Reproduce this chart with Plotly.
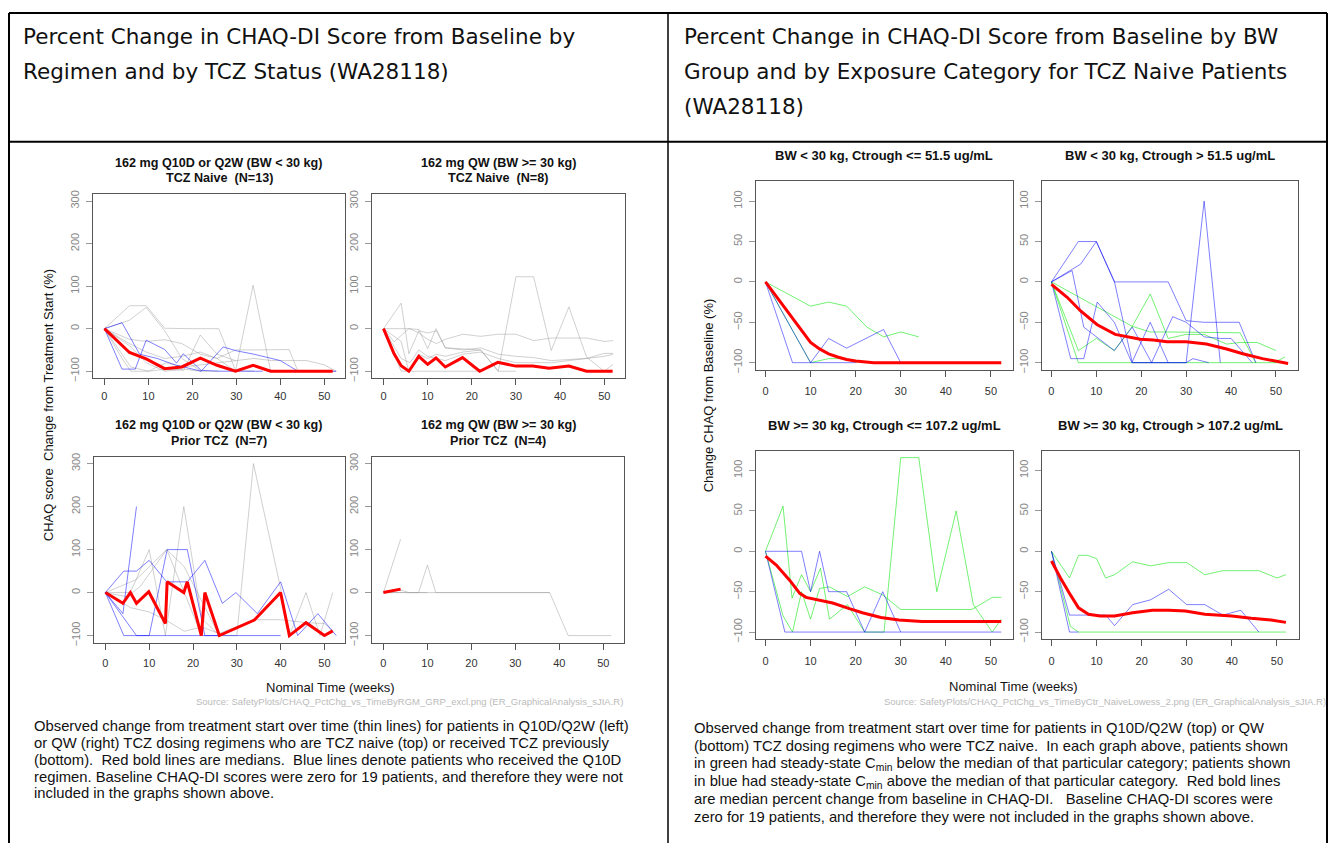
import plotly.graph_objects as go

# ---------------- DATA ----------------
# Left cell: Percent change by regimen and TCZ status (weeks, % change)
naive_q2w_red_t = [0, 5.7, 9.5, 13.7, 17.6, 21.8, 25.6, 29.8, 33.8, 37.8, 51.9]
naive_q2w_red_y = [0, -56, -71, -94, -90, -69, -86, -100, -86, -100, -100]
naive_q2w_blue_t = [[0, 4, 7, 9.5, 13.7, 16.4, 17.9, 22, 26.5, 29.8, 34, 36],
                    [0, 4, 8, 12, 16, 20, 22, 27, 30, 34, 40, 44, 52.7]]
naive_q2w_blue_y = [[0, -95, -95, -27, -49, -81, -59, -98, -100, -100, -100, -100],
                    [0, 14, -60, -70, -85, -95, -100, -43, -52, -60, -75, -100, -100]]
naive_q2w_gray_t = [[0, 5.7, 9.5, 13.7, 20, 26, 29.8, 34],
                    [0, 5.7, 9.5, 13.7, 17.6, 22],
                    [0, 5.7, 9.5, 13.7, 17.6, 21.8, 25.6, 29.8, 33.8, 37.8],
                    [0, 5.7, 9.5, 13.7, 17.6, 21.8, 25.6, 29.8, 33.8, 37.8, 42, 44, 52.7],
                    [0, 4, 6, 10, 14, 18, 22, 26, 30, 34, 38, 42, 46, 50, 52.7],
                    [0, 6, 10, 14, 18, 21.8, 25.6, 29.8],
                    [0, 5.7, 9.5, 13.7, 18, 22, 26]]
naive_q2w_gray_y = [[0, 54, 54, 1, 0, 0, -98, -100],
                    [0, 20, 50, -5, -70, -100],
                    [0, -25, -30, -26, -35, -60, -70, -100, 102, -100],
                    [0, -35, -55, -70, -65, -55, -70, -50, -50, -50, -49, -100, -100],
                    [0, -70, -100, -100, -80, -90, -85, -80, -75, -70, -75, -75, -75, -85, -100],
                    [0, -90, -100, -95, -98, -15, -60, -75],
                    [0, -40, -80, -100, -95, -100, -100]]

naive_qw_red_t = [0, 2.4, 4, 5.75, 8, 10, 11.9, 14, 17.9, 21.8, 25.9, 30, 33.8, 37.5, 42, 46, 51.9]
naive_qw_red_y = [0, -59, -87, -100, -65, -84, -69, -90, -68, -100, -79, -88, -88, -93, -88, -100, -100]
naive_qw_gray_t = [[0, 4, 5.75, 8, 10, 12, 14, 18, 22, 26, 30, 34, 38, 42, 46, 50, 52],
                   [0, 4, 5.75, 8, 10, 12, 14, 18, 22, 26, 30],
                   [0, 4, 6, 8, 10, 12, 14, 18, 22, 26, 30, 34, 38, 42, 46, 50, 52],
                   [0, 2.4, 5.75, 8, 10, 11.9, 14, 18, 22, 26, 30, 34, 38, 42, 46, 50, 52],
                   [0, 4, 8, 14, 18, 22],
                   [0, 4, 6, 8, 10, 14, 18, 22, 26, 30, 34, 38, 42, 46, 50, 52]]
naive_qw_gray_y = [[0, -30, -100, -60, -70, -60, -65, -55, -50, -100, 122, 122, -51, 51, -67, -100, -84],
                   [0, 60, -59, -5, -10, -5, -45, -48, -50, -100, -100],
                   [0, 0, 0, -10, -25, -35, -25, -13, -18, -13, -13, -28, -22, -22, -22, -30, -28],
                   [0, -31, 0, -2, -47, 0, -45, -50, -45, -60, -65, -68, -75, -72, -70, -58, -58],
                   [0, -100, -100, -100, -100, -100],
                   [0, -70, -80, -50, -65, -75, -60, -55, -70, -80, -80, -80, -75, -70, -65, -60]]

prior_q2w_red_t = [0, 4, 5.7, 7.1, 9.9, 13.7, 14.1, 17.9, 18.7, 21.9, 22.7, 26, 34, 40, 42, 45.8, 50, 51.9]
prior_q2w_red_y = [0, -25, 0, -25, 2, -72, 25, 0, 25, -100, 0, -100, -64, 0, -100, -70, -100, -89]
prior_q2w_blue_t = [[0, 4, 7.1],
                    [0, 4.2, 10, 14.1, 18.7, 22.7, 26],
                    [0, 4.2, 7.1, 10, 14, 18.7, 22.7, 26.7, 29.8, 34.7, 40, 43.9, 48.5, 52.7],
                    [0, 7.1, 14, 22, 30, 40]]
prior_q2w_blue_y = [[0, -49, 200],
                    [0, -100, -100, 100, 100, -100, -100],
                    [0, 50, 50, 75, 25, 25, 75, -25, 0, -49, 25, -100, -49, -100],
                    [0, -100, -100, -100, -100, -100]]
prior_q2w_gray_t = [[0, 5.7, 10, 13.7, 17.9, 22, 26],
                    [0, 5.7, 10, 14, 18, 22, 26, 34, 40, 46, 50, 52],
                    [0, 7, 10, 14, 18, 22, 26, 30, 33.8, 40, 42, 45.8, 49, 51.9],
                    [0, 5, 8, 14, 18, 22]]
prior_q2w_gray_y = [[0, 0, 100, -100, 200, -60, -100],
                    [0, -35, -45, -65, -90, -80, -95, -63, -63, -70, -72, -90],
                    [0, 30, 60, 100, 60, -20, -100, -100, 300, 10, -100, 0, -100, 0],
                    [0, -10, 15, 100, 0, -100]]

prior_qw_red_t = [0, 3.9]
prior_qw_red_y = [0, 8]
prior_qw_gray_t = [[0, 3.9],
                   [0, 3.9, 5.8, 8, 10, 11.9, 37.8, 42, 51.8],
                   [0, 6, 20, 30, 37.8],
                   [0, 4, 10]]
prior_qw_gray_y = [[0, 124],
                   [0, 6, 0, 0, 64, 0, 0, -100, -100],
                   [0, 0, 0, 0, 0],
                   [0, 0, 0]]

# Right cell: by BW group and exposure category (TCZ naive)
lowbw_lowc_red_t = [0, 2, 4, 6, 8, 10, 12, 14, 16, 18, 20, 22, 24, 52.3]
lowbw_lowc_red_y = [0, -15, -30, -45, -61, -75, -83, -89, -93, -96, -98, -99, -100, -100]
lowbw_lowc_green_t = [[0, 10, 14, 18, 22.5, 26.2, 30, 34], [0, 10, 14, 18, 20.3]]
lowbw_lowc_green_y = [[0, -30, -25, -30, -56, -68, -62, -68], [0, -100, -95, -95, -100]]
lowbw_lowc_blue_t = [[0, 6, 20], [0, 10, 14, 18, 26.2, 30]]
lowbw_lowc_blue_y = [[0, -100, -100], [0, -100, -70, -82, -59, -100]]

lowbw_highc_red_t = [0, 3.5, 6.5, 10.2, 14.2, 19.8, 22.7, 25.7, 30, 34.5, 39, 42.6, 47, 50, 52.7]
lowbw_highc_red_y = [-3, -19, -36, -53, -65, -71, -72, -74, -74, -77, -83, -89, -95, -98, -101]
lowbw_highc_blue_t = [[0, 6, 10, 14, 18, 22, 26],
                      [0, 4.6, 6.5, 10, 14, 26, 30, 34, 41.8, 45.5],
                      [0, 4.3, 7.2, 10.2, 14, 17.9, 22, 26],
                      [0, 4.6, 7.2, 14, 18, 22.3, 27, 30, 34, 37.6, 40, 44.7],
                      [26, 30, 34, 37.6],
                      [18, 30, 31.5, 35]]
lowbw_highc_blue_y = [[0, 50, 50, 1, -100, -100, -100],
                      [0, 15, 22, 50, 0, 0, -48, -50, -50, -100],
                      [0, -95, -95, -25, -50, -100, -50, -100],
                      [0, 14, -56, -85, -56, -100, -43, -50, -68, -70, -70, -100],
                      [-100, -100, 100, -100],
                      [-100, -100, -95, -100]]
lowbw_highc_green_t = [[0, 6, 52.5],
                       [0, 6, 10, 14, 18, 22, 26, 30, 34, 39, 42, 45.8, 50],
                       [0, 10, 14, 18, 22, 26, 42, 45.5],
                       [49.5, 52]]
lowbw_highc_green_y = [[0, -100, -100],
                       [0, -85, -70, -85, -55, -15, -70, -65, -65, -77, -75, -75, -85],
                       [0, -30, -42, -55, -62, -62, -63, -100],
                       [-100, -93]]

highbw_lowc_red_t = [0, 2.4, 5.4, 7.6, 9, 12.7, 14.9, 18.6, 21.5, 25.6, 29.6, 34.7, 52.3]
highbw_lowc_red_y = [-6, -17, -36, -52, -57, -61, -64, -71, -76, -82, -85, -87, -87]
highbw_lowc_green_t = [[0, 3.9, 5.9, 8, 10, 12.2, 14.2, 18.2, 22, 26.3, 30, 34, 38, 42.3, 46.1, 50.3, 52.3],
                       [0, 3.9, 6, 8, 10, 12, 14.2, 18.2, 22, 26, 30, 45.8, 50.3, 52.3]]
highbw_lowc_green_y = [[0, 56, -58, -29, -50, -21, -84, -66, -100, -100, 116, 116, -50, 50, -66, -100, -84],
                       [0, -80, -100, -50, -84, -46, -44, -56, -44, -54, -72, -72, -57, -57]]
highbw_lowc_blue_t = [[0, 8, 10, 12, 14, 18, 22, 26, 30], [0, 4.3, 52.3]]
highbw_lowc_blue_y = [[0, 0, -50, 0, -50, -50, -100, -50, -100], [0, -100, -100]]

highbw_highc_red_t = [0, 2, 4.2, 6, 8.2, 10.8, 14, 18, 22.4, 26, 29.7, 34, 40, 44.3, 48.7, 52]
highbw_highc_red_y = [-12, -33, -54, -70, -78, -80, -80, -76, -73, -73, -74, -78, -80, -83, -85, -88]
highbw_highc_green_t = [[0, 4, 6, 8, 10, 12, 14, 18, 22, 26, 30, 34, 38, 46, 50, 52], [0, 4.2, 6, 52]]
highbw_highc_green_y = [[0, -33, -5, -5, -9, -33, -29, -13, -18, -14, -14, -29, -24, -24, -33, -29],
                        [0, -93, -100, -100]]
highbw_highc_blue_t = [[0, 4, 12, 14, 18, 22, 26, 30, 34, 38, 42, 46], [0, 4, 6]]
highbw_highc_blue_y = [[0, -79, -79, -92, -66, -60, -47, -66, -66, -79, -73, -100], [0, -100, -100]]

left_xticks = [0, 10, 20, 30, 40, 50]
left_yticks = [-100, 0, 100, 200, 300]
right_xticks = [0, 10, 20, 30, 40, 50]
right_yticks = [-100, -50, 0, 50, 100]

# ---------------- LAYOUT HELPERS ----------------
W, H = 1320, 835
OX, OY = 8, 8


def px(X):
    return (X - OX) / W


def py(Y):
    return 1 - (Y - OY) / H


GRAY = 'rgba(150,150,150,0.45)'
BLUE = 'rgba(0,0,255,0.5)'
GREEN = 'rgba(0,230,0,0.55)'
RED = '#ff0000'

fig = go.Figure()

panels = [
    # idx, frame box in px, x range, y range, ticks, x-label standoff
    (1, (93, 345, 192, 378), [-2.6, 54.7], [-117, 316], left_xticks, left_yticks, 1),
    (2, (372, 625, 192, 378), [-2.6, 54.7], [-117, 316], left_xticks, left_yticks, 1),
    (3, (94, 345, 457, 645), [-2.6, 54.7], [-117, 316], left_xticks, left_yticks, 4),
    (4, (372, 624, 457, 645), [-2.6, 54.7], [-117, 316], left_xticks, left_yticks, 4),
    (5, (756, 1013, 179, 369), [-2.1, 54.9], [-108.5, 124.5], right_xticks, right_yticks, 5),
    (6, (1042, 1298, 179, 369), [-2.1, 54.9], [-108.5, 124.5], right_xticks, right_yticks, 5),
    (7, (756, 1013, 451, 641), [-2.1, 54.9], [-108.5, 124.5], right_xticks, right_yticks, 6),
    (8, (1042, 1299, 451, 641), [-2.1, 54.9], [-108.5, 124.5], right_xticks, right_yticks, 6),
]

layout_axes = {}
for idx, (x0, x1, y0, y1), xr, yr, xt, yt, xs in panels:
    sfx = '' if idx == 1 else str(idx)
    layout_axes['xaxis' + sfx] = dict(
        domain=[px(x0), px(x1)], range=xr, anchor='y' + sfx,
        showline=True, mirror=True, linecolor='#555', linewidth=1,
        ticks='outside', ticklen=6, tickcolor='#555', tickvals=xt,
        ticklabelstandoff=xs,
        tickfont=dict(family='Liberation Sans, Arial', size=11, color='#333'),
        showgrid=False, zeroline=False, fixedrange=True)
    layout_axes['yaxis' + sfx] = dict(
        domain=[py(y1), py(y0)], range=yr, anchor='x' + sfx,
        showline=True, mirror=True, linecolor='#555', linewidth=1,
        ticks='outside', ticklen=6, tickcolor='#999', tickvals=yt,
        tickangle=-90, ticklabelstandoff=3,
        tickfont=dict(family='Liberation Sans, Arial', size=11, color='#888'),
        showgrid=False, zeroline=False, fixedrange=True)


def add_lines(idx, ts, ys, color, width=1.0):
    sfx = '' if idx == 1 else str(idx)
    for t, y in zip(ts, ys):
        fig.add_trace(go.Scatter(x=t, y=y, mode='lines', line=dict(color=color, width=width),
                                 xaxis='x' + sfx, yaxis='y' + sfx, hoverinfo='skip',
                                 showlegend=False))


def add_red(idx, t, y):
    add_lines(idx, [t], [y], RED, 3)


add_lines(1, naive_q2w_gray_t, naive_q2w_gray_y, GRAY)
add_lines(1, naive_q2w_blue_t, naive_q2w_blue_y, BLUE)
add_red(1, naive_q2w_red_t, naive_q2w_red_y)

add_lines(2, naive_qw_gray_t, naive_qw_gray_y, GRAY)
add_red(2, naive_qw_red_t, naive_qw_red_y)

add_lines(3, prior_q2w_gray_t, prior_q2w_gray_y, GRAY)
add_lines(3, prior_q2w_blue_t, prior_q2w_blue_y, BLUE)
add_red(3, prior_q2w_red_t, prior_q2w_red_y)

add_lines(4, prior_qw_gray_t, prior_qw_gray_y, GRAY)
add_red(4, prior_qw_red_t, prior_qw_red_y)

add_lines(5, lowbw_lowc_green_t, lowbw_lowc_green_y, GREEN)
add_lines(5, lowbw_lowc_blue_t, lowbw_lowc_blue_y, BLUE)
add_red(5, lowbw_lowc_red_t, lowbw_lowc_red_y)

add_lines(6, lowbw_highc_green_t, lowbw_highc_green_y, GREEN)
add_lines(6, lowbw_highc_blue_t, lowbw_highc_blue_y, BLUE)
add_red(6, lowbw_highc_red_t, lowbw_highc_red_y)

add_lines(7, highbw_lowc_green_t, highbw_lowc_green_y, GREEN)
add_lines(7, highbw_lowc_blue_t, highbw_lowc_blue_y, BLUE)
add_red(7, highbw_lowc_red_t, highbw_lowc_red_y)

add_lines(8, highbw_highc_green_t, highbw_highc_green_y, GREEN)
add_lines(8, highbw_highc_blue_t, highbw_highc_blue_y, BLUE)
add_red(8, highbw_highc_red_t, highbw_highc_red_y)

# ---------------- TEXT ----------------
ann = []


def text(X, Y, s, size=12, color='#000', family='Liberation Sans, Arial', xanchor='left',
         bold=False, angle=0):
    if bold:
        s = '<b>' + s + '</b>'
    ann.append(dict(x=px(X), y=py(Y), xref='paper', yref='paper', text=s, showarrow=False,
                    xanchor=xanchor, yanchor='middle', textangle=angle,
                    font=dict(size=size, color=color, family=family)))


HF = 'DejaVu Sans, Verdana'
HS = 21.5
text(21, 33, 'Percent Change in CHAQ-DI Score from Baseline by', HS, '#111', HF)
text(21, 68, 'Regimen and by TCZ Status (WA28118)', HS, '#111', HF)
text(682, 33, 'Percent Change in CHAQ-DI Score from Baseline by BW', HS, '#111', HF)
text(682, 68, 'Group and by Exposure Category for TCZ Naive Patients', HS, '#111', HF)
text(682, 103, '(WA28118)', HS, '#111', HF)

# subplot titles
TS = 12.6
text(219, 160, '162 mg Q10D or Q2W (BW &lt; 30 kg)', TS, '#111', xanchor='center', bold=True)
text(219, 176, 'TCZ Naive  (N=13)', TS, '#111', xanchor='center', bold=True)
text(498, 160, '162 mg QW (BW &gt;= 30 kg)', TS, '#111', xanchor='center', bold=True)
text(498, 176, 'TCZ Naive  (N=8)', TS, '#111', xanchor='center', bold=True)
text(219, 425, '162 mg Q10D or Q2W (BW &lt; 30 kg)', TS, '#111', xanchor='center', bold=True)
text(219, 441, 'Prior TCZ  (N=7)', TS, '#111', xanchor='center', bold=True)
text(498, 425, '162 mg QW (BW &gt;= 30 kg)', TS, '#111', xanchor='center', bold=True)
text(498, 441, 'Prior TCZ  (N=4)', TS, '#111', xanchor='center', bold=True)

RS = 13
text(884, 153, 'BW &lt; 30 kg, Ctrough &lt;= 51.5 ug/mL', RS, '#111', xanchor='center', bold=True)
text(1170, 153, 'BW &lt; 30 kg, Ctrough &gt; 51.5 ug/mL', RS, '#111', xanchor='center', bold=True)
text(884, 425, 'BW &gt;= 30 kg, Ctrough &lt;= 107.2 ug/mL', RS, '#111', xanchor='center', bold=True)
text(1170, 425, 'BW &gt;= 30 kg, Ctrough &gt; 107.2 ug/mL', RS, '#111', xanchor='center', bold=True)

# axis titles
text(48, 405, 'CHAQ score  Change from Treatment Start (%)', 13, '#111', xanchor='center', angle=-90)
text(708, 395, 'Change CHAQ from Baseline (%)', 13, '#111', xanchor='center', angle=-90)
text(330, 690, 'Nominal Time (weeks)', 13, '#111', xanchor='center')
text(1013, 689, 'Nominal Time (weeks)', 13, '#111', xanchor='center')
text(625, 704, 'Source: SafetyPlots/CHAQ_PctChg_vs_TimeByRGM_GRP_excl.png (ER_GraphicalAnalysis_sJIA.R)',
     9.5, '#bbb', xanchor='right')
text(1328, 704, 'Source: SafetyPlots/CHAQ_PctChg_vs_TimeByCtr_NaiveLowess_2.png (ER_GraphicalAnalysis_sJIA.R)',
     9.5, '#bbb', xanchor='right')

CS = 14.8
left_caption = [
    'Observed change from treatment start over time (thin lines) for patients in Q10D/Q2W (left)',
    'or QW (right) TCZ dosing regimens who are TCZ naive (top) or received TCZ previously',
    '(bottom).  Red bold lines are medians.  Blue lines denote patients who received the Q10D',
    'regimen. Baseline CHAQ-DI scores were zero for 19 patients, and therefore they were not',
    'included in the graphs shown above.',
]
for i, s in enumerate(left_caption):
    text(32, 729 + 17 * i, s, CS, '#111')

right_caption = [
    'Observed change from treatment start over time for patients in Q10D/Q2W (top) or QW',
    '(bottom) TCZ dosing regimens who were TCZ naive.  In each graph above, patients shown',
    'in green had steady-state C<sub>min</sub> below the median of that particular category; patients shown',
    'in blue had steady-state C<sub>min</sub> above the median of that particular category.  Red bold lines',
    'are median percent change from baseline in CHAQ-DI.   Baseline CHAQ-DI scores were',
    'zero for 19 patients, and therefore they were not included in the graphs shown above.',
]
for i, s in enumerate(right_caption):
    text(692, 731 + 18 * i, s, CS, '#111')

# table borders
shapes = []


def hline(Y, X0, X1, w=2):
    shapes.append(dict(type='line', xref='paper', yref='paper', x0=px(X0), x1=px(X1), y0=py(Y), y1=py(Y),
                       line=dict(color='#000', width=w)))


def vline(X, Y0, Y1, w=2):
    shapes.append(dict(type='line', xref='paper', yref='paper', x0=px(X), x1=px(X), y0=py(Y0), y1=py(Y1),
                       line=dict(color='#000', width=w)))


hline(9, 9, 1327)
hline(139, 9, 1327)
vline(9, 9, 860)
vline(668, 9, 860, 1.5)
vline(1327, 9, 860)

fig.update_layout(width=W, height=H, margin=dict(l=0, r=0, t=0, b=0),
                  paper_bgcolor='white', plot_bgcolor='white',
                  annotations=ann, shapes=shapes, showlegend=False, **layout_axes)

fig.write_html('out.html')
